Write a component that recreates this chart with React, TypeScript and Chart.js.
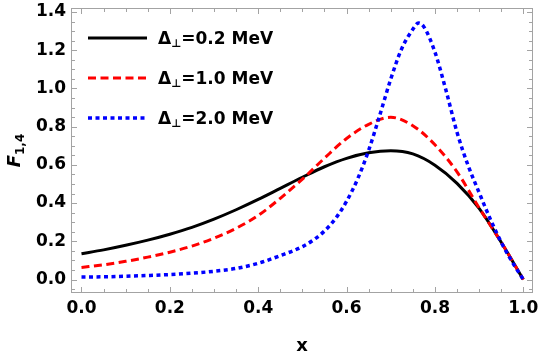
import { useEffect, useRef } from "react";
import { Chart, registerables } from "chart.js";

Chart.register(...registerables);

// x grid shared by the two broader curves
const xGrid = [0, 0.05, 0.1, 0.15, 0.2, 0.25, 0.3, 0.35, 0.4, 0.45, 0.5, 0.55, 0.6, 0.65, 0.7, 0.75, 0.8, 0.85, 0.9, 0.95, 1.0];
// F_{1,4} for Δ⊥ = 0.2 MeV
const fDelta02 = [0.135, 0.155, 0.179, 0.206, 0.237, 0.273, 0.316, 0.365, 0.419, 0.477, 0.535, 0.59, 0.634, 0.663, 0.674, 0.657, 0.598, 0.503, 0.372, 0.195, 0];
// F_{1,4} for Δ⊥ = 1.0 MeV
const fDelta10 = [0.063, 0.077, 0.095, 0.117, 0.143, 0.175, 0.216, 0.268, 0.335, 0.425, 0.525, 0.635, 0.738, 0.812, 0.849, 0.805, 0.705, 0.563, 0.375, 0.195, 0];
// finer x grid for the sharply peaked curve
const xFine = [0, 0.05, 0.1, 0.15, 0.2, 0.25, 0.3, 0.35, 0.4, 0.45, 0.5, 0.525, 0.55, 0.575, 0.6, 0.625, 0.65, 0.675, 0.7, 0.725, 0.75, 0.7625, 0.775, 0.8, 0.825, 0.85, 0.875, 0.9, 0.925, 0.95, 0.975, 1.0];
// F_{1,4} for Δ⊥ = 2.0 MeV
const fDelta20 = [0.013, 0.014, 0.017, 0.021, 0.026, 0.033, 0.043, 0.058, 0.085, 0.125, 0.172, 0.207, 0.254, 0.319, 0.409, 0.526, 0.676, 0.859, 1.049, 1.209, 1.309, 1.342, 1.322, 1.19, 0.99, 0.77, 0.597, 0.455, 0.318, 0.195, 0.092, 0];

const deltaValues = ["0.2", "1.0", "2.0"];
const xTickValues = [0, 0.2, 0.4, 0.6, 0.8, 1.0];
const yTickValues = [0, 0.2, 0.4, 0.6, 0.8, 1.0, 1.2, 1.4];

const FONT = '"DejaVu Sans", "Liberation Sans", sans-serif';
const FRAME_COLOR = "#a3a3a3";

const toPoints = (xs: number[], ys: number[]) => xs.map((x, i) => ({ x, y: ys[i] }));

// Mathematica-style frame: four gray sides with inward major/minor ticks
const framePlugin = {
  id: "frameTicks",
  beforeDatasetsDraw(chart: any) {
    const { ctx, chartArea: a, scales } = chart;
    const xs = scales.x;
    const ys = scales.y;
    ctx.save();
    ctx.strokeStyle = FRAME_COLOR;
    ctx.lineWidth = 1;
    ctx.strokeRect(a.left - 0.5, a.top - 0.5, a.right - a.left + 1, a.bottom - a.top + 1);
    ctx.beginPath();
    for (let k = Math.ceil(xs.min / 0.05); k * 0.05 <= xs.max + 1e-9; k++) {
      const len = k % 4 === 0 ? 5 : 3;
      const px = Math.round(xs.getPixelForValue(k * 0.05)) + 0.5;
      ctx.moveTo(px, a.bottom);
      ctx.lineTo(px, a.bottom - len);
      ctx.moveTo(px, a.top);
      ctx.lineTo(px, a.top + len);
    }
    for (let k = Math.ceil(ys.min / 0.05); k * 0.05 <= ys.max + 1e-9; k++) {
      const len = k % 4 === 0 ? 5 : 3;
      const py = Math.round(ys.getPixelForValue(k * 0.05)) + 0.5;
      ctx.moveTo(a.left, py);
      ctx.lineTo(a.left + len, py);
      ctx.moveTo(a.right, py);
      ctx.lineTo(a.right - len, py);
    }
    ctx.stroke();
    ctx.restore();
  },
};

// legend with Δ⊥ labels and the rotated F_{1,4} axis label
const labelsPlugin = {
  id: "deltaLabels",
  afterDatasetsDraw(chart: any) {
    const ctx = chart.ctx;
    chart.data.datasets.forEach((ds: any, i: number) => {
      const y = 38 + i * 40;
      ctx.save();
      ctx.strokeStyle = ds.borderColor;
      ctx.lineWidth = ds.borderWidth;
      ctx.setLineDash(ds.borderDash || []);
      ctx.beginPath();
      ctx.moveTo(88, y);
      ctx.lineTo(147, y);
      ctx.stroke();
      ctx.setLineDash([]);
      ctx.fillStyle = "#000";
      ctx.textAlign = "left";
      ctx.textBaseline = "alphabetic";
      const base = y + 6;
      let x = 158;
      ctx.font = `bold 17px ${FONT}`;
      ctx.fillText("Δ", x, base);
      x += ctx.measureText("Δ").width;
      ctx.font = `bold 11px ${FONT}`;
      ctx.fillText("⊥", x, base + 3);
      x += ctx.measureText("⊥").width;
      ctx.font = `bold 17px ${FONT}`;
      ctx.fillText(`=${deltaValues[i]} MeV`, x, base);
      ctx.restore();
    });

    const a = chart.chartArea;
    ctx.save();
    ctx.translate(20, (a.top + a.bottom) / 2);
    ctx.rotate(-Math.PI / 2);
    ctx.fillStyle = "#000";
    ctx.textAlign = "left";
    ctx.textBaseline = "alphabetic";
    ctx.font = `italic bold 18px ${FONT}`;
    const wF = ctx.measureText("F").width;
    ctx.font = `bold 12px ${FONT}`;
    const wS = ctx.measureText("1,4").width;
    const start = -(wF + wS) / 2;
    ctx.font = `italic bold 18px ${FONT}`;
    ctx.fillText("F", start, 0);
    ctx.font = `bold 12px ${FONT}`;
    ctx.fillText("1,4", start + wF, 4);
    ctx.restore();
  },
};

export default function App() {
  const canvasRef = useRef<HTMLCanvasElement | null>(null);

  useEffect(() => {
    if (!canvasRef.current) return;
    const tickFont = { family: FONT, weight: "bold" as const, size: 17, lineHeight: 1 };
    const chart = new Chart(canvasRef.current, {
      type: "line",
      data: {
        datasets: [
          {
            label: "Δ⊥=0.2 MeV",
            data: toPoints(xGrid, fDelta02),
            borderColor: "#000000",
            borderWidth: 3,
            cubicInterpolationMode: "monotone",
            pointRadius: 0,
            fill: false,
            order: 2,
          },
          {
            label: "Δ⊥=1.0 MeV",
            data: toPoints(xGrid, fDelta10),
            borderColor: "#ff0000",
            borderWidth: 3,
            borderDash: [8, 4.5],
            cubicInterpolationMode: "monotone",
            pointRadius: 0,
            fill: false,
            order: 1,
          },
          {
            label: "Δ⊥=2.0 MeV",
            data: toPoints(xFine, fDelta20),
            borderColor: "#0000ff",
            borderWidth: 3.5,
            borderDash: [4, 3.5],
            cubicInterpolationMode: "monotone",
            pointRadius: 0,
            fill: false,
            order: 0,
          },
        ],
      },
      options: {
        responsive: false,
        animation: false,
        devicePixelRatio: 1,
        layout: { padding: { left: 0, right: 10, top: 9, bottom: 0 } },
        plugins: { legend: { display: false }, tooltip: { enabled: false } },
        scales: {
          x: {
            type: "linear",
            min: -0.0215,
            max: 1.0197,
            grid: { display: false, drawTicks: false },
            border: { display: false },
            ticks: {
              font: tickFont,
              color: "#000",
              padding: 8,
              maxRotation: 0,
              callback: (v: any) => Number(v).toFixed(1),
            },
            title: {
              display: true,
              text: "x",
              color: "#000",
              font: { family: FONT, weight: "bold", size: 18, lineHeight: 1 },
              padding: { top: 0, bottom: 2 },
            },
            afterBuildTicks: (s: any) => {
              s.ticks = xTickValues.map((value) => ({ value }));
            },
            afterFit: (s: any) => {
              s.height = 65;
              s.paddingLeft = 0;
              s.paddingRight = 0;
            },
          },
          y: {
            type: "linear",
            min: -0.0654,
            max: 1.4155,
            grid: { display: false, drawTicks: false },
            border: { display: false },
            ticks: {
              font: tickFont,
              color: "#000",
              padding: 6,
              callback: (v: any) => Number(v).toFixed(1),
            },
            afterBuildTicks: (s: any) => {
              s.ticks = yTickValues.map((value) => ({ value }));
            },
            afterFit: (s: any) => {
              s.width = 72;
              s.paddingTop = 0;
              s.paddingBottom = 0;
            },
          },
        },
      },
      plugins: [framePlugin, labelsPlugin],
    });
    return () => chart.destroy();
  }, []);

  return (
    <div style={{ position: "fixed", left: 0, top: 0, width: 542, height: 357, background: "#ffffff" }}>
      <canvas ref={canvasRef} width={542} height={357} style={{ display: "block" }} />
    </div>
  );
}
